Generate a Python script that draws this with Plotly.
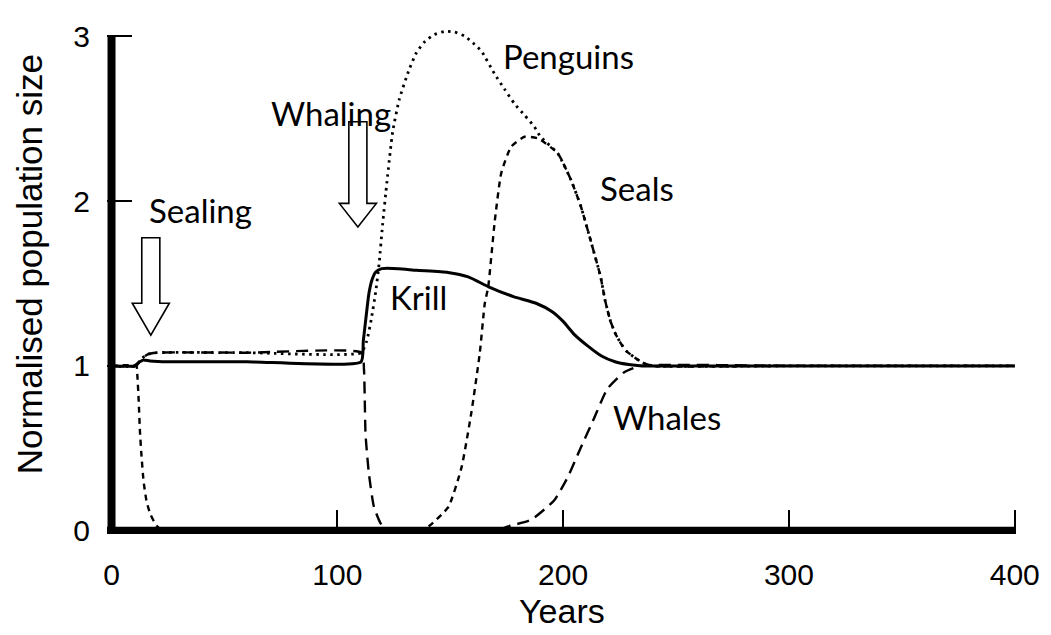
import plotly.graph_objects as go

# ---------------- data ----------------
krill_years = [0, 10, 12, 14, 17, 25, 60, 110.5, 111.5, 113, 114, 115.3, 117, 119.7, 127, 135,
               149, 158, 167, 178, 188, 195, 200, 205, 211, 217, 223, 229, 235, 300, 400]
krill_vals = [1.0, 1.0, 1.02, 1.035, 1.03, 1.025, 1.025, 1.025, 1.15, 1.33, 1.44, 1.52, 1.57, 1.59,
              1.59, 1.58, 1.567, 1.54, 1.48, 1.42, 1.38, 1.33, 1.27, 1.19, 1.12, 1.06, 1.025, 1.008,
              1.0, 1.0, 1.0]

penguin_years = [0, 11, 13, 16, 20, 60, 110.5, 113, 115, 117, 118.5, 120, 122, 124.5, 127.5, 131.6,
                 135, 138.9, 143, 147.7, 152, 156.5, 160, 163.8, 169.7, 174, 178.5, 183, 187.3, 190,
                 197.6, 203.4, 207.8, 212.2, 216.6, 218.7, 221, 223, 225.4, 228, 232.8, 236, 240,
                 300, 400]
penguin_vals = [1.0, 1.0, 1.04, 1.07, 1.08, 1.08, 1.08, 1.15, 1.28, 1.45, 1.62, 1.85, 2.12, 2.42,
                2.62, 2.79, 2.9, 2.97, 3.01, 3.03, 3.025, 3.0, 2.96, 2.91, 2.77, 2.68, 2.59, 2.52,
                2.45, 2.39, 2.29, 2.13, 1.97, 1.76, 1.54, 1.39, 1.27, 1.2, 1.14, 1.09, 1.04, 1.015,
                1.0, 1.0, 1.0]

seal_years = [0, 11, 11.4, 12, 12.6, 13.3, 14.2, 15.5, 17.2, 20, 23, 80, 135, 140.4, 149.2, 155,
              159.4, 163.1, 165.3, 166.8, 169.7, 172.6, 177, 182.9, 188.8, 197.6, 203.4, 207.8,
              212.2, 216.6, 218.7, 221, 223, 225.4, 228, 232.8, 236, 240, 300, 400]
seal_vals = [1.0, 1.0, 0.95, 0.8, 0.6, 0.45, 0.3, 0.18, 0.1, 0.03, 0.0, 0.0, 0.0, 0.026, 0.145,
             0.384, 0.72, 1.08, 1.378, 1.477, 1.875, 2.17, 2.33, 2.39, 2.38, 2.29, 2.13, 1.97, 1.76,
             1.54, 1.39, 1.27, 1.2, 1.14, 1.09, 1.04, 1.015, 1.0, 1.0, 1.0]

whale_years = [0, 11, 13, 16, 20, 60, 110.8, 111.8, 112.5, 114, 116.2, 119.1, 122, 150, 170,
               175.6, 185.8, 196.1, 202, 207.8, 213.7, 219.6, 226.9, 234.2, 300, 400]
whale_vals = [1.0, 1.0, 1.04, 1.07, 1.08, 1.08, 1.08, 0.98, 0.583, 0.344, 0.145, 0.046, 0.0, 0.0,
              0.0, 0.026, 0.066, 0.185, 0.324, 0.503, 0.682, 0.861, 0.96, 1.0, 1.0, 1.0]

x_ticks = [0, 100, 200, 300, 400]
y_ticks = [0, 1, 2, 3]

labels = ["Penguins", "Whaling", "Sealing", "Seals", "Krill", "Whales"]
label_x = [202.4, 97.3, 39.2, 232.8, 136.0, 246.0]
label_y = [2.88, 2.535, 1.944, 2.08, 1.42, 0.69]

# hollow block arrows: (centre year, top, head base, tip)
arrow_x = [17.4, 109.1]
arrow_top = [1.777, 2.481]
arrow_base = [1.38, 1.986]
arrow_tip = [1.187, 1.843]

# ---------------- figure ----------------
X_RANGE = [-2, 401]
Y_RANGE = [-0.02, 3.05]
SHAFT_HALF = 4.0
HEAD_HALF = 8.2
PAGE_OFFSET = 8  # default body margin of the html page

fig = go.Figure()

def add_line(xs, ys, dash, width):
    fig.add_trace(go.Scatter(x=xs, y=ys, mode="lines",
                             line=dict(color="black", width=width, dash=dash,
                                       shape="spline", smoothing=0.5),
                             hoverinfo="skip", showlegend=False))

add_line(seal_years, seal_vals, "6px,5px", 2.4)
add_line(whale_years, whale_vals, "12px,7px", 2.4)
add_line(penguin_years, penguin_vals, "2.5px,4.5px", 2.8)
add_line(krill_years, krill_vals, "solid", 3)

shapes = []
# axis lines (drawn at the data origin)
shapes.append(dict(type="line", xref="x", yref="y", x0=0, x1=0, y0=Y_RANGE[0], y1=y_ticks[-1],
                   line=dict(color="black", width=8), layer="below"))
shapes.append(dict(type="line", xref="x", yref="y", x0=X_RANGE[0], x1=x_ticks[-1], y0=0, y1=0,
                   line=dict(color="black", width=8), layer="below"))

for xc, yt, yb, ytip in zip(arrow_x, arrow_top, arrow_base, arrow_tip):
    pts = [(xc - SHAFT_HALF, yt), (xc + SHAFT_HALF, yt), (xc + SHAFT_HALF, yb),
           (xc + HEAD_HALF, yb), (xc, ytip), (xc - HEAD_HALF, yb), (xc - SHAFT_HALF, yb)]
    path = "M " + " L ".join(f"{px},{py}" for px, py in pts) + " Z"
    shapes.append(dict(type="path", xref="x", yref="y", path=path,
                       line=dict(color="black", width=1.6), fillcolor="white", layer="above"))

annotations = []
for t, lx, ly in zip(labels, label_x, label_y):
    annotations.append(dict(x=lx, y=ly, xref="x", yref="y", text=t, showarrow=False,
                            font=dict(family="Lato", size=33, color="black"),
                            xanchor="center", yanchor="middle"))

# axis titles
annotations.append(dict(x=-0.0857, y=0.533, xref="paper", yref="paper",
                        text="Normalised population size", showarrow=False, textangle=-90,
                        font=dict(family="Liberation Sans", size=35, color="black"),
                        xanchor="center", yanchor="middle"))
annotations.append(dict(x=0.5, y=-0.193, xref="paper", yref="paper", text="Years",
                        showarrow=False,
                        font=dict(family="Liberation Sans", size=34, color="black"),
                        xanchor="center", yanchor="bottom"))

fig.update_layout(
    width=1051 - PAGE_OFFSET, height=635 - PAGE_OFFSET,
    margin=dict(l=106.5 - PAGE_OFFSET, r=28.7, t=19.6 - PAGE_OFFSET, b=100.6),
    paper_bgcolor="white", plot_bgcolor="white",
    shapes=shapes, annotations=annotations,
    xaxis=dict(range=X_RANGE, tickvals=x_ticks, ticktext=[str(v) for v in x_ticks],
               showgrid=False, zeroline=False, showline=False,
               ticks="inside", ticklen=24, tickwidth=2, tickcolor="black",
               ticklabelstandoff=20,
               tickfont=dict(family="Liberation Sans", size=30, color="black")),
    yaxis=dict(range=Y_RANGE, tickvals=y_ticks, ticktext=[str(v) for v in y_ticks],
               showgrid=False, zeroline=False, showline=False,
               ticks="inside", ticklen=25, tickwidth=2, tickcolor="black",
               ticklabelstandoff=16,
               tickfont=dict(family="Liberation Sans", size=30, color="black")),
)

fig.write_html("out.html")
